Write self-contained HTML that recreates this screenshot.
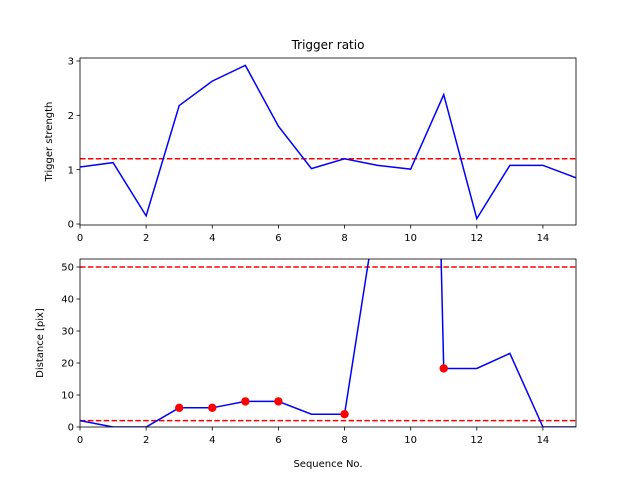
<!DOCTYPE html>
<html><head><meta charset="utf-8"><style>body{margin:0;background:#fff}svg{display:block;font-family:"DejaVu Sans","Liberation Sans",sans-serif}</style></head>
<body>
<svg id="c" width="640" height="480"></svg>
<script>
const seq=[0,1,2,3,4,5,6,7,8,9,10,11,12,13,14,15];
const trigger=[1.05,1.13,0.15,2.18,2.63,2.92,1.8,1.02,1.2,1.08,1.01,2.38,0.1,1.08,1.08,0.85];
const triggerThreshold=[1.2];
const distance=[2,0,0,6,6,8,8,4,4,70,450,18.3,18.3,23,0,0];
const distThresholds=[2,50];
const markedIdx=[3,4,5,6,8,11];
const xTicks=[0,2,4,6,8,10,12,14];
const yTicksTop=[0,1,2,3];
const yTicksBot=[0,10,20,30,40,50];

const NS="http://www.w3.org/2000/svg",svgEl=document.getElementById('c');
function el(t,a,p){const e=document.createElementNS(NS,t);for(const k in a)e.setAttribute(k,a[k]);(p||svgEl).appendChild(e);return e;}
const L=80,R=576;
const sx=v=>L+(v-0)/(15-0)*(R-L);
const axTop={y0:58,y1:225,min:-0.018,max:3.055};
const axBot={y0:259,y1:427,min:0,max:52.5};
const sy=(ax,v)=>ax.y1-(v-ax.min)/(ax.max-ax.min)*(ax.y1-ax.y0);

function axes(ax,data,thr,yt,name,ylabel){
  const g=el('g',{});
  
  
  el('rect',{x:L,y:ax.y0,width:R-L,height:ax.y1-ax.y0,fill:'#fff'},g);
  const cid='clip-'+name;
  const cp=el('clipPath',{id:cid},g);el('rect',{x:L,y:ax.y0,width:R-L,height:ax.y1-ax.y0},cp);
  const pg=el('g',{'clip-path':'url(#'+cid+')'},g);
  thr.forEach(t=>{const l=el('line',{x1:L,x2:R,y1:sy(ax,t),y2:sy(ax,t),stroke:'#f00','stroke-width':1.5,'stroke-dasharray':'5.5,2.4'},pg);
    
    });
  const p=el('polyline',{points:data.map((v,i)=>sx(seq[i])+','+sy(ax,v)).join(' '),fill:'none',stroke:'#00f','stroke-width':1.5},pg);
  
  
  el('rect',{x:L,y:ax.y0,width:R-L,height:ax.y1-ax.y0,fill:'none',stroke:'#000','stroke-width':0.8},g);
  xTicks.forEach(t=>{el('line',{x1:sx(t),x2:sx(t),y1:ax.y1,y2:ax.y1+3.5,stroke:'#000','stroke-width':0.8},g);
    const tx=el('text',{x:sx(t),y:ax.y1+16,'font-size':10,'text-anchor':'middle'},g);tx.textContent=t;
    
    });
  yt.forEach(t=>{el('line',{x1:L,x2:L-3.5,y1:sy(ax,t),y2:sy(ax,t),stroke:'#000','stroke-width':0.8},g);
    const tx=el('text',{x:L-6,y:sy(ax,t)+3.6,'font-size':10,'text-anchor':'end'},g);tx.textContent=t;
    
    });
  const yl=el('text',{x:0,y:0,'font-size':10,'text-anchor':'middle',transform:`translate(${ylabel[1]},${(ax.y0+ax.y1)/2}) rotate(-90)`},g);yl.textContent=ylabel[0];
  
  
  return pg;
}
const t=el('text',{x:328,y:49,'font-size':12,'text-anchor':'middle'});t.textContent='Trigger ratio';


axes(axTop,trigger,triggerThreshold,yTicksTop,'top-axes',['Trigger strength',52]);
const xl1=el('text',{x:328,y:266,'font-size':10,'text-anchor':'middle'});xl1.textContent='Sequence No.';


const pg=axes(axBot,distance,distThresholds,yTicksBot,'bottom-axes',['Distance [pix]',43]);
markedIdx.forEach(i=>{const c=el('circle',{cx:sx(seq[i]),cy:sy(axBot,distance[i]),r:4.2,fill:'#f00'},pg);
  
  });
const xl2=el('text',{x:328,y:467,'font-size':10,'text-anchor':'middle'});xl2.textContent='Sequence No.';


</script>
</body></html>
